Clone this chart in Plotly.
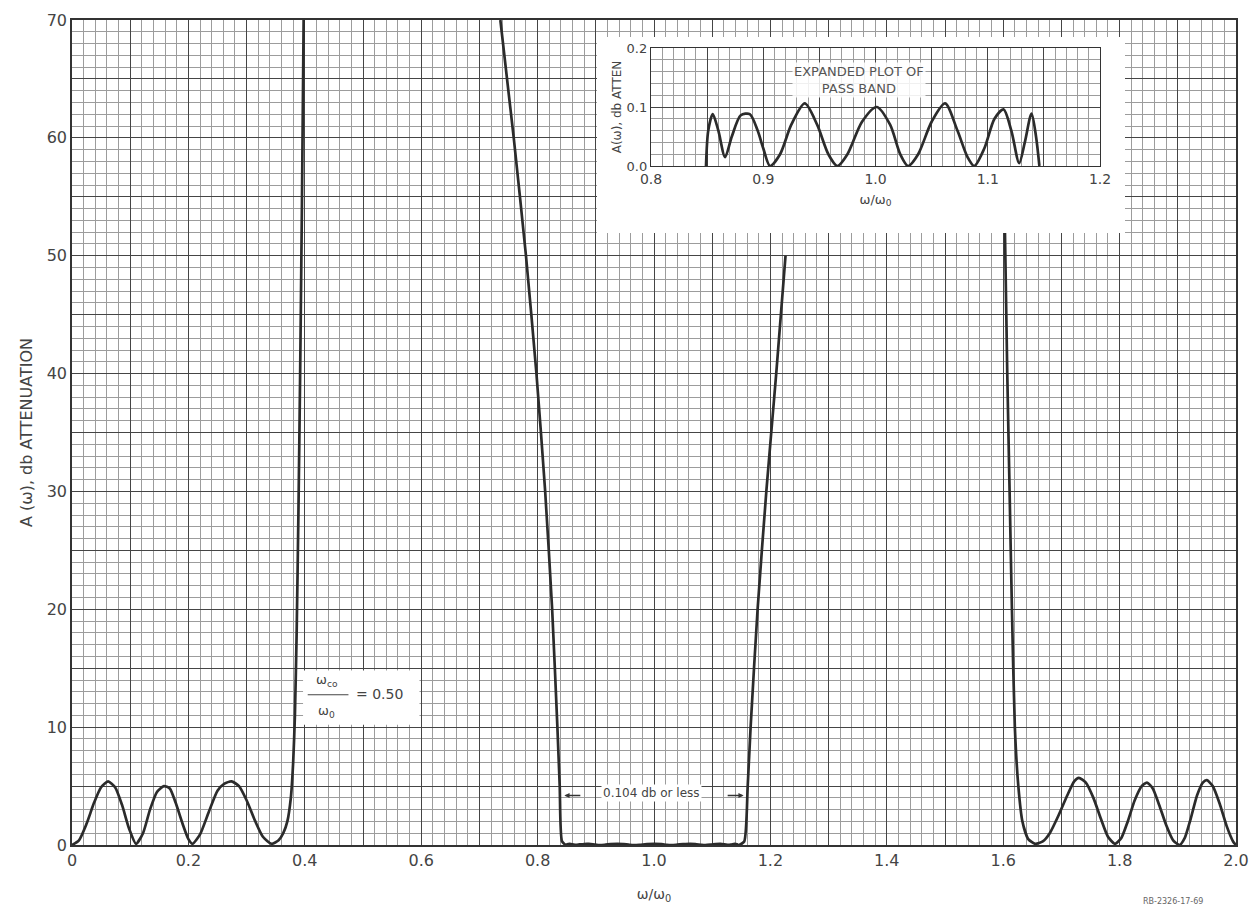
import plotly.graph_objects as go

# ---------------- data ----------------
# lower stop band and its rising skirt
low_w = [0, 0.012, 0.025, 0.038, 0.05, 0.062, 0.074, 0.086, 0.098, 0.11,
         0.122, 0.134, 0.146, 0.158, 0.168, 0.178, 0.19, 0.2, 0.207,
         0.22, 0.235, 0.25, 0.262, 0.274, 0.287, 0.30, 0.315, 0.328, 0.343,
         0.355, 0.363, 0.370, 0.376, 0.380, 0.383, 0.386, 0.389, 0.392, 0.395, 0.398]
low_a = [0, 0.4, 1.8, 3.6, 4.9, 5.4, 4.9, 3.4, 1.4, 0.1,
         1.0, 3.0, 4.5, 5.0, 4.8, 3.6, 1.8, 0.5, 0.1,
         0.9, 2.8, 4.6, 5.2, 5.4, 5.0, 3.8, 2.0, 0.7, 0.1,
         0.4, 1.0, 2.0, 4.0, 7.0, 11, 18, 28, 40, 54, 70]

# lower skirt of the pass band (descending)
skirt1_w = [0.736, 0.759, 0.780, 0.798, 0.813, 0.825, 0.834, 0.838, 0.842]
skirt1_a = [70, 60, 50, 40, 30, 20, 10, 5, 0.3]

# pass band (expanded plot)
pass_w = [0.849, 0.851, 0.855, 0.860, 0.866, 0.872, 0.880, 0.888, 0.895, 0.900,
          0.906, 0.915, 0.925, 0.937, 0.948, 0.958, 0.966, 0.975, 0.988, 1.001,
          1.013, 1.022, 1.029, 1.038, 1.050, 1.062, 1.073, 1.082, 1.088, 1.097,
          1.106, 1.114, 1.121, 1.128, 1.133, 1.139, 1.143, 1.146]
pass_a = [0.0, 0.06, 0.088, 0.06, 0.015, 0.05, 0.086, 0.088, 0.06, 0.03,
          0.0, 0.02, 0.07, 0.106, 0.07, 0.02, 0.0, 0.02, 0.075, 0.10,
          0.07, 0.02, 0.0, 0.02, 0.075, 0.106, 0.06, 0.015, 0.0, 0.03,
          0.08, 0.096, 0.06, 0.005, 0.04, 0.089, 0.05, 0.0]

# upper skirt of the pass band (rising)
skirt2_w = [1.155, 1.161, 1.166, 1.178, 1.193, 1.210, 1.226]
skirt2_a = [0.3, 5, 10, 20, 30, 40, 50]

# upper stop band
high_w = [1.603, 1.607, 1.611, 1.615, 1.620, 1.626, 1.633, 1.643, 1.655, 1.668,
          1.680, 1.695, 1.710, 1.722, 1.730, 1.742, 1.755, 1.768, 1.780, 1.792,
          1.803, 1.814, 1.826, 1.838, 1.847, 1.857, 1.868, 1.880, 1.892, 1.903,
          1.912, 1.922, 1.933, 1.943, 1.950, 1.960, 1.972, 1.984, 1.995, 2.0]
high_a = [52, 40, 30, 20, 10, 5, 2, 0.5, 0.1, 0.3,
          1.0, 2.5, 4.2, 5.4, 5.7, 5.3, 4.0, 2.2, 0.7, 0.1,
          0.6, 2.0, 3.8, 5.0, 5.3, 4.8, 3.4, 1.7, 0.4, 0.0,
          0.6, 2.2, 4.2, 5.3, 5.5, 5.0, 3.5, 1.6, 0.3, 0.0]

# tick labels
x_tickvals = [round(0.1 * i, 1) for i in range(21)]
x_ticktext = ["0", "", "0.2", "", "0.4", "", "0.6", "", "0.8", "", "1.0", "",
              "1.2", "", "1.4", "", "1.6", "", "1.8", "", "2.0"]
y_tickvals = [0, 5, 10, 15, 20, 25, 30, 35, 40, 45, 50, 55, 60, 65, 70]
y_ticktext = ["0", "", "10", "", "20", "", "30", "", "40", "", "50", "", "60", "", "70"]
ix_tickvals = [0.8, 0.85, 0.9, 0.95, 1.0, 1.05, 1.1, 1.15, 1.2]
ix_ticktext = ["0.8", "", "0.9", "", "1.0", "", "1.1", "", "1.2"]
iy_tickvals = [0.0, 0.1, 0.2]
iy_ticktext = ["0.0", "0.1", "0.2"]

# ---------------- styling ----------------
LINE = "#2b2b2b"
TXT = "#444444"
MAJ = "#454545"
MIN = "#9c9c9c"
FONT = "DejaVu Sans"

# the page body adds an 8px offset; plot area on screen spans x 72..1236, y 20..845
OFF = 8
W, H = 1258 - OFF, 917 - OFF
PL, PR, PT, PB = 72, 1236, 20, 845
L, R, T, B = PL - OFF, W - (PR - OFF), PT - OFF, H - (PB - OFF)
pw, ph = PR - PL, PB - PT


def px_x(p):
    return (p - PL) / pw


def px_y(p):
    return (PB - p) / ph


fig = go.Figure()

main_w = low_w + [None] + skirt1_w + pass_w + skirt2_w + [None] + high_w
main_a = low_a + [None] + skirt1_a + pass_a + skirt2_a + [None] + high_a

fig.add_trace(go.Scatter(x=main_w, y=main_a, mode="lines",
                         line=dict(color=LINE, width=2.7, shape="spline", smoothing=0.6),
                         connectgaps=False, hoverinfo="skip", showlegend=False,
                         xaxis="x", yaxis="y"))
# white backing panel for the inset (empty subplot)
fig.add_trace(go.Scatter(x=[], y=[], xaxis="x2", yaxis="y2", showlegend=False))
# inset: expanded pass band
fig.add_trace(go.Scatter(x=pass_w, y=pass_a, mode="lines",
                         line=dict(color=LINE, width=2.7, shape="spline", smoothing=0.8),
                         hoverinfo="skip", showlegend=False, xaxis="x3", yaxis="y3"))

axis_common = dict(showline=True, mirror=True, linecolor="#333", linewidth=1.5,
                   ticks="", zeroline=False, gridcolor=MAJ, gridwidth=1.3,
                   tickfont=dict(family=FONT, size=16, color=TXT))

fig.update_layout(
    width=W, height=H,
    margin=dict(l=L, r=R, t=T, b=B, autoexpand=False),
    paper_bgcolor="white", plot_bgcolor="white",
    showlegend=False,
    xaxis=dict(domain=[0, 1], range=[0, 2.0], tickmode="array",
               tickvals=x_tickvals, ticktext=x_ticktext,
               minor=dict(tickmode="linear", tick0=0, dtick=0.02, showgrid=True,
                          gridcolor=MIN, gridwidth=1),
               title=dict(text="ω/ω<sub>0</sub>", font=dict(family=FONT, size=14, color=TXT),
                          standoff=20),
               anchor="y", **axis_common),
    yaxis=dict(domain=[0, 1], range=[0, 70], tickmode="array",
               tickvals=y_tickvals, ticktext=y_ticktext,
               minor=dict(tickmode="linear", tick0=0, dtick=1, showgrid=True,
                          gridcolor=MIN, gridwidth=1),
               title=dict(text="A (ω), db ATTENUATION",
                          font=dict(family=FONT, size=16, color=TXT), standoff=10),
               anchor="x", **axis_common),
    xaxis2=dict(domain=[px_x(597), px_x(1125)], range=[0, 1], visible=False,
                showgrid=False, anchor="y2", fixedrange=True),
    yaxis2=dict(domain=[px_y(233), px_y(37)], range=[0, 1], visible=False,
                showgrid=False, anchor="x2", fixedrange=True),
    xaxis3=dict(domain=[px_x(651), px_x(1100)], range=[0.8, 1.2], tickmode="array",
                tickvals=ix_tickvals, ticktext=ix_ticktext,
                minor=dict(tickmode="linear", tick0=0.8, dtick=0.01, showgrid=True,
                           gridcolor=MIN, gridwidth=1),
                title=dict(text="ω/ω<sub>0</sub>", font=dict(family=FONT, size=13, color=TXT),
                           standoff=8),
                anchor="y3",
                showline=True, mirror=True, linecolor="#333", linewidth=1.3,
                ticks="", zeroline=False, gridcolor=MAJ, gridwidth=1.2,
                tickfont=dict(family=FONT, size=14, color=TXT)),
    yaxis3=dict(domain=[px_y(166), px_y(48)], range=[0, 0.2], tickmode="array",
                tickvals=iy_tickvals, ticktext=iy_ticktext,
                minor=dict(tickmode="linear", tick0=0, dtick=0.02, showgrid=True,
                           gridcolor=MIN, gridwidth=1),
                title=dict(text="A(ω), db ATTEN", font=dict(family=FONT, size=12, color=TXT),
                           standoff=2),
                anchor="x3",
                showline=True, mirror=True, linecolor="#333", linewidth=1.3,
                ticks="", zeroline=False, gridcolor=MAJ, gridwidth=1.2,
                tickfont=dict(family=FONT, size=13, color=TXT)),
)

# ---------------- annotations ----------------
ann = []
# inset caption
ann.append(dict(xref="x3", yref="y3", x=0.985, y=0.146, text="EXPANDED PLOT OF<br>PASS BAND",
                showarrow=False, font=dict(family=FONT, size=13, color="#555"),
                bgcolor="rgba(255,255,255,0.85)", align="center"))
# omega ratio box
ann.append(dict(xref="x", yref="y", x=0.438, y=14.0, text="ω<sub>co</sub>", showarrow=False,
                font=dict(family=FONT, size=13, color=TXT)))
ann.append(dict(xref="x", yref="y", x=0.438, y=11.3, text="ω<sub>0</sub>", showarrow=False,
                font=dict(family=FONT, size=13, color=TXT)))
ann.append(dict(xref="x", yref="y", x=0.528, y=12.8, text="= 0.50", showarrow=False,
                font=dict(family=FONT, size=14, color=TXT)))
# pass band ripple note
ann.append(dict(xref="x", yref="y", x=0.995, y=4.4, text="0.104 db or less", showarrow=False,
                font=dict(family=FONT, size=12, color=TXT), bgcolor="white",
                borderpad=1))
ann.append(dict(xref="x", yref="y", x=0.846, y=4.2, ax=0.876, ay=4.2, axref="x", ayref="y",
                text="", showarrow=True, arrowhead=2, arrowsize=0.8, arrowwidth=1.3,
                arrowcolor="#333"))
ann.append(dict(xref="x", yref="y", x=1.154, y=4.2, ax=1.124, ay=4.2, axref="x", ayref="y",
                text="", showarrow=True, arrowhead=2, arrowsize=0.8, arrowwidth=1.3,
                arrowcolor="#333"))
# drawing number
ann.append(dict(xref="paper", yref="paper", x=px_x(1205), y=px_y(908), text="RB-2326-17-69",
                showarrow=False, font=dict(family=FONT, size=8, color="#666")))
fig.update_layout(annotations=ann)

shapes = [
    dict(type="rect", xref="x", yref="y", x0=0.397, x1=0.597, y0=10.2, y1=14.8,
         fillcolor="white", line=dict(width=0), layer="above"),
    dict(type="line", xref="x", yref="y", x0=0.405, x1=0.475, y0=12.75, y1=12.75,
         line=dict(color="#444", width=1.2), layer="above"),
]
fig.update_layout(shapes=shapes)

fig.write_html("out.html")
